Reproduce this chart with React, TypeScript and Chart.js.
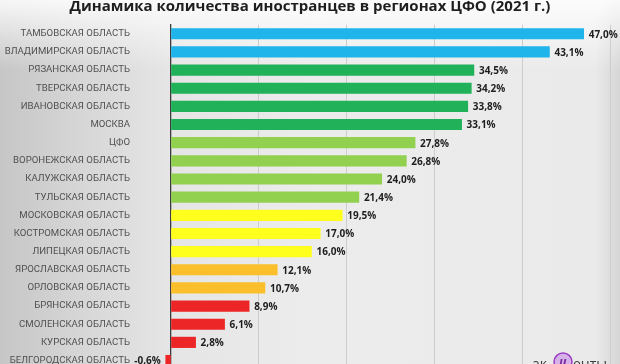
import React, { useEffect, useRef } from "react";
import { Chart, registerables } from "chart.js";

Chart.register(...registerables);

const TITLE = "Динамика количества иностранцев в регионах ЦФО (2021 г.)";

const regions = [
  "ТАМБОВСКАЯ ОБЛАСТЬ",
  "ВЛАДИМИРСКАЯ ОБЛАСТЬ",
  "РЯЗАНСКАЯ ОБЛАСТЬ",
  "ТВЕРСКАЯ ОБЛАСТЬ",
  "ИВАНОВСКАЯ ОБЛАСТЬ",
  "МОСКВА",
  "ЦФО",
  "ВОРОНЕЖСКАЯ ОБЛАСТЬ",
  "КАЛУЖСКАЯ ОБЛАСТЬ",
  "ТУЛЬСКАЯ ОБЛАСТЬ",
  "МОСКОВСКАЯ ОБЛАСТЬ",
  "КОСТРОМСКАЯ ОБЛАСТЬ",
  "ЛИПЕЦКАЯ ОБЛАСТЬ",
  "ЯРОСЛАВСКАЯ ОБЛАСТЬ",
  "ОРЛОВСКАЯ ОБЛАСТЬ",
  "БРЯНСКАЯ ОБЛАСТЬ",
  "СМОЛЕНСКАЯ ОБЛАСТЬ",
  "КУРСКАЯ ОБЛАСТЬ",
  "БЕЛГОРОДСКАЯ ОБЛАСТЬ",
];

const growth = [
  47.0, 43.1, 34.5, 34.2, 33.8, 33.1, 27.8, 26.8, 24.0, 21.4, 19.5, 17.0, 16.0,
  12.1, 10.7, 8.9, 6.1, 2.8, -0.6,
];

const BLUE = "#1fb4ea";
const GREEN = "#20b159";
const LIGHT_GREEN = "#92d050";
const YELLOW = "#ffff1e";
const ORANGE = "#fbbf2c";
const RED = "#ec2626";

const barColors = [
  BLUE, BLUE,
  GREEN, GREEN, GREEN, GREEN,
  LIGHT_GREEN, LIGHT_GREEN, LIGHT_GREEN, LIGHT_GREEN,
  YELLOW, YELLOW, YELLOW,
  ORANGE, ORANGE,
  RED, RED, RED, RED,
];

const axisTicks = [0, 10, 20, 30, 40, 50];

const fmt = (v: number) => v.toFixed(1).replace(".", ",") + "%";

const backgroundPlugin = {
  id: "bgPlugin",
  beforeDraw(chart: any) {
    const { ctx, width, height } = chart;
    ctx.save();
    const g = ctx.createLinearGradient(0, 0, width, 0);
    g.addColorStop(0, "#c6c6c6");
    g.addColorStop(0.12, "#d5d5d5");
    g.addColorStop(0.27, "#e5e5e5");
    g.addColorStop(0.5, "#ececec");
    g.addColorStop(0.96, "#eaeaea");
    g.addColorStop(1, "#d6d6d6");
    ctx.fillStyle = g;
    ctx.fillRect(0, 0, width, height);
    const v = ctx.createLinearGradient(0, 0, 0, 70);
    v.addColorStop(0, "rgba(255,255,255,0.85)");
    v.addColorStop(1, "rgba(255,255,255,0)");
    ctx.fillStyle = v;
    ctx.fillRect(0, 0, width, 70);
    ctx.restore();
  },
  afterDraw(chart: any) {
    const { ctx } = chart;
    ctx.save();
    // title
    ctx.font = "bold 15px 'Open Sans'";
    ctx.fillStyle = "#1e1e1e";
    ctx.textAlign = "center";
    ctx.textBaseline = "alphabetic";
    ctx.fillText(TITLE, 310, 10.5);
    // watermark
    ctx.font = "14px 'Open Sans'";
    ctx.fillStyle = "#3a3a3a";
    ctx.textAlign = "left";
    ctx.fillText("ак", 532, 369);
    ctx.fillText("енты", 573, 369);
    ctx.beginPath();
    ctx.arc(563, 362, 9, 0, Math.PI * 2);
    ctx.fillStyle = "rgba(200,140,230,0.6)";
    ctx.fill();
    ctx.lineWidth = 1.5;
    ctx.strokeStyle = "#9b3fc4";
    ctx.stroke();
    ctx.font = "italic bold 12px 'Open Sans'";
    ctx.fillStyle = "#7a2aa0";
    ctx.textAlign = "center";
    ctx.fillText("ц", 563, 366);
    ctx.restore();
  },
};

const valueLabelPlugin = {
  id: "valueLabels",
  afterDatasetsDraw(chart: any) {
    const { ctx } = chart;
    const meta = chart.getDatasetMeta(0);
    ctx.save();
    ctx.font = "bold 10px 'Open Sans'";
    ctx.fillStyle = "#1e1e1e";
    ctx.textBaseline = "middle";
    meta.data.forEach((bar: any, i: number) => {
      const v = growth[i];
      if (v >= 0) {
        ctx.textAlign = "left";
        ctx.fillText(fmt(v), bar.x + 5, bar.y + 1);
      } else {
        ctx.textAlign = "right";
        ctx.fillText(fmt(v), bar.x - 5, bar.y + 1);
      }
    });
    ctx.restore();
  },
};

export default function App() {
  const ref = useRef<HTMLCanvasElement | null>(null);

  useEffect(() => {
    document.body.style.margin = "0";
    const canvas = ref.current;
    if (!canvas) return;
    const chart = new Chart(canvas, {
      type: "bar",
      data: {
        labels: regions,
        datasets: [
          {
            data: growth,
            backgroundColor: barColors,
            borderWidth: 0,
            barThickness: 10.5,
            clip: false as any,
          },
        ],
      },
      options: {
        indexAxis: "y",
        responsive: false,
        animation: false,
        layout: { padding: { top: 24.7, bottom: 2.4, right: 10, left: 0 } },
        plugins: {
          legend: { display: false },
          title: { display: false },
          tooltip: { enabled: false },
        },
        scales: {
          x: {
            type: "linear",
            min: 0,
            max: 50,
            afterBuildTicks: (s: any) => {
              s.ticks = axisTicks.map((value) => ({ value }));
            },
            afterFit: (s: any) => {
              s.height = 0;
              s.paddingLeft = 0;
              s.paddingRight = 0;
            },
            ticks: { display: false },
            border: { display: false },
            grid: {
              drawTicks: false,
              color: (c: any) =>
                c.tick && c.tick.value === 0 ? "rgba(0,0,0,0)" : "#cdcdcd",
              lineWidth: 1,
            },
          },
          y: {
            type: "category",
            afterFit: (s: any) => {
              s.width = 171;
              s.paddingTop = 0;
              s.paddingBottom = 0;
            },
            grid: { display: false, drawTicks: false },
            border: { display: true, color: "#3c3c3c", width: 1.3 },
            ticks: {
              color: "#505050",
              padding: 41,
              font: { family: "Roboto", size: 9.6 },
              autoSkip: false,
            },
          },
        },
      },
      plugins: [backgroundPlugin, valueLabelPlugin],
    });
    return () => chart.destroy();
  }, []);

  return (
    <div style={{ width: 620, height: 364, overflow: "hidden", position: "relative" }}>
      <canvas ref={ref} width={620} height={372} style={{ display: "block" }} />
    </div>
  );
}
